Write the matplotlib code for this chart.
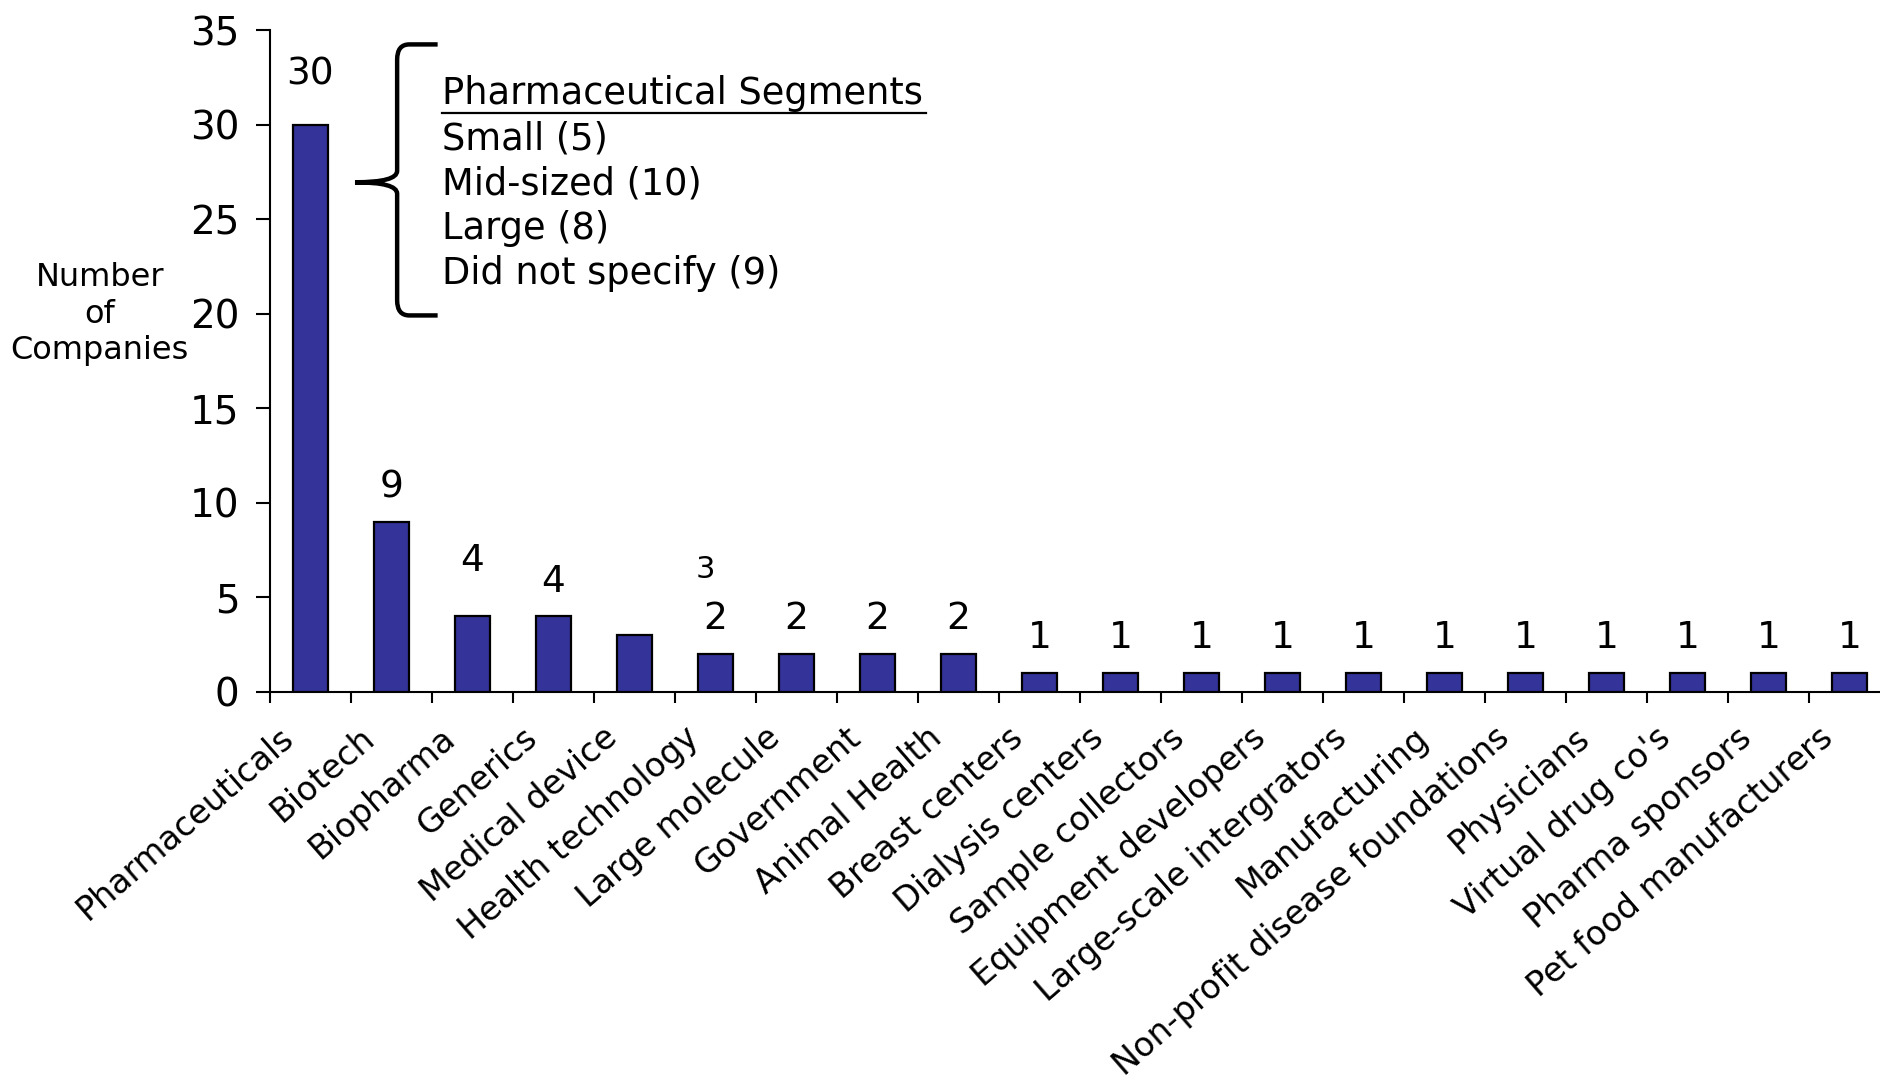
import numpy as np
import matplotlib
matplotlib.use("Agg")
import matplotlib.pyplot as plt
from matplotlib.path import Path
from matplotlib.patches import PathPatch
from matplotlib.transforms import ScaledTranslation

# categories and counts
categories = ["Pharmaceuticals", "Biotech", "Biopharma", "Generics", "Medical device",
              "Health technology", "Large molecule", "Government", "Animal Health",
              "Breast centers", "Dialysis centers", "Sample collectors",
              "Equipment developers", "Large-scale intergrators", "Manufacturing",
              "Non-profit disease foundations", "Physicians", "Virtual drug co's",
              "Pharma sponsors", "Pet food manufacturers"]
counts = [30, 9, 4, 4, 3, 2, 2, 2, 2, 1, 1, 1, 1, 1, 1, 1, 1, 1, 1, 1]

segment_title = "Pharmaceutical Segments"
segment_names = ["Small", "Mid-sized", "Large", "Did not specify"]
segment_counts = [5, 10, 8, 9]

bar_color = "#333399"

fig = plt.figure(figsize=(18.81, 10.77), dpi=100)
ax = fig.add_axes([0.1435, 0.3575, 0.8615, 0.6146])

x = np.arange(len(categories))
ax.bar(x, counts, width=0.43, color=bar_color, edgecolor="black", linewidth=1.6, zorder=3)

ax.set_xlim(-0.5, len(categories) - 0.5)
ax.set_ylim(0, 35)
ax.set_yticks(np.arange(0, 36, 5))
ax.tick_params(axis="y", direction="out", length=10, width=1.5, labelsize=28, pad=12)

ax.set_xticks(x)
ax.set_xticklabels(categories, rotation=41, ha="right", rotation_mode="anchor", fontsize=24)
ax.tick_params(axis="x", which="major", length=0, pad=21)
shift = ScaledTranslation(-32 / 100, 0, fig.dpi_scale_trans)
for lab in ax.get_xticklabels():
    lab.set_transform(lab.get_transform() + shift)
ax.set_xticks(np.arange(-0.5, len(categories), 1), minor=True)
ax.tick_params(axis="x", which="minor", direction="out", length=8, width=1.5)

for side in ["top", "right"]:
    ax.spines[side].set_visible(False)
ax.spines["left"].set_linewidth(1.5)
ax.spines["bottom"].set_linewidth(1.5)

# value labels (the small "3" of Medical device sits off to the right, as in the source)
for i, v in enumerate(counts):
    if categories[i] == "Medical device":
        ax.text(i + 0.88, v + 3.5, str(v), ha="center", va="center", fontsize=22)
        continue
    off = 25
    if i == 0:
        off = 36
    elif categories[i] == "Biopharma":
        off = 40
    ax.annotate(str(v), (i, v), xytext=(0, off), textcoords="offset points",
                ha="center", va="center", fontsize=27)

ax.set_ylabel("Number\nof\nCompanies", rotation=0, fontsize=23, labelpad=0,
              linespacing=1.23, ha="center", va="center")
ax.yaxis.set_label_coords(-0.105, 0.571)

# brace and segment list
xv, xe, xt = 1.07, 1.57, 0.55
ytop, ybot, ytip = 34.24, 19.91, 26.95
verts = [(xe, ytop), (xv + 0.15, ytop), (xv, ytop), (xv, ytop - 0.8),
         (xv, ytip + 0.6), (xv, ytip), (xt, ytip),
         (xv, ytip), (xv, ytip - 0.6),
         (xv, ybot + 0.8), (xv, ybot), (xv + 0.15, ybot), (xe, ybot)]
codes = [Path.MOVETO, Path.LINETO, Path.CURVE3, Path.CURVE3,
         Path.LINETO, Path.CURVE3, Path.CURVE3,
         Path.CURVE3, Path.CURVE3,
         Path.LINETO, Path.CURVE3, Path.CURVE3, Path.LINETO]
ax.add_patch(PathPatch(Path(verts, codes), facecolor="none", edgecolor="black",
                       linewidth=3.2, capstyle="butt", clip_on=False))

tx = 1.62
ax.text(tx, 31.64, segment_title, fontsize=26.5, va="center", ha="left")
ax.plot([tx, tx + 5.98], [30.6, 30.6], color="black", linewidth=1.6)
for k, (name, n) in enumerate(zip(segment_names, segment_counts)):
    ax.text(tx, 29.23 - k * 2.37, f"{name} ({n})", fontsize=26.5, va="center", ha="left")

fig.savefig("out.png", dpi=100)
